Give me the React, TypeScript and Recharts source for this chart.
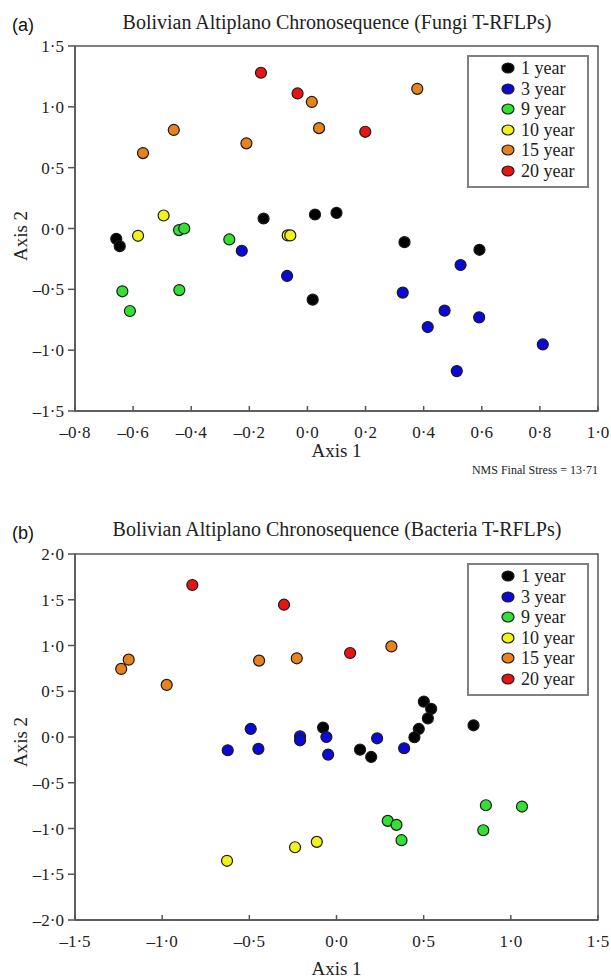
import React from "react";
import {
  ScatterChart,
  Scatter,
  XAxis,
  YAxis,
  ReferenceArea,
} from "recharts";

// group names + colours (same order in both panels)
const groups = ["1 year", "3 year", "9 year", "10 year", "15 year", "20 year"];
const groupColors = ["#000000", "#0a0ad8", "#33e033", "#f2f21a", "#e8821e", "#e81414"];

// (a) fungi T-RFLPs, [axis1, axis2]
const fungi1y: [number, number][] = [
  [-0.658, -0.085], [-0.646, -0.145], [-0.151, 0.082], [0.026, 0.115],
  [0.1, 0.128], [0.018, -0.585], [0.334, -0.112], [0.592, -0.175],
];
const fungi3y: [number, number][] = [
  [-0.226, -0.183], [-0.07, -0.39], [0.527, -0.3], [0.328, -0.527],
  [0.472, -0.675], [0.414, -0.81], [0.591, -0.73], [0.81, -0.953], [0.514, -1.172],
];
const fungi9y: [number, number][] = [
  [-0.442, -0.013], [-0.424, 0.0], [-0.269, -0.09], [-0.637, -0.516],
  [-0.441, -0.506], [-0.611, -0.678],
];
const fungi10y: [number, number][] = [
  [-0.495, 0.107], [-0.583, -0.06], [-0.068, -0.057], [-0.059, -0.057],
];
const fungi15y: [number, number][] = [
  [0.015, 1.04], [0.04, 0.825], [-0.46, 0.81], [-0.566, 0.62],
  [-0.21, 0.7], [0.378, 1.148],
];
const fungi20y: [number, number][] = [
  [-0.16, 1.28], [-0.034, 1.11], [0.199, 0.795],
];

// (b) bacteria T-RFLPs
const bact1y: [number, number][] = [
  [-0.077, 0.103], [0.501, 0.387], [0.543, 0.307], [0.524, 0.204],
  [0.472, 0.088], [0.447, -0.003], [0.786, 0.128], [0.135, -0.138], [0.199, -0.218],
];
const bact3y: [number, number][] = [
  [-0.492, 0.088], [-0.624, -0.145], [-0.448, -0.13], [-0.209, 0.008],
  [-0.209, -0.036], [-0.058, 0.0], [-0.048, -0.192], [0.233, -0.014], [0.388, -0.123],
];
const bact9y: [number, number][] = [
  [0.857, -0.746], [1.064, -0.76], [0.842, -1.019], [0.294, -0.917],
  [0.344, -0.96], [0.373, -1.128],
];
const bact10y: [number, number][] = [
  [-0.628, -1.353], [-0.238, -1.205], [-0.113, -1.146],
];
const bact15y: [number, number][] = [
  [-1.235, 0.744], [-1.192, 0.845], [-0.974, 0.569], [-0.444, 0.835],
  [-0.228, 0.86], [0.315, 0.99],
];
const bact20y: [number, number][] = [
  [-0.827, 1.661], [-0.301, 1.446], [0.078, 0.918],
];

const fungiXTicks = [-0.8, -0.6, -0.4, -0.2, 0, 0.2, 0.4, 0.6, 0.8, 1.0];
const fungiYTicks = [-1.5, -1.0, -0.5, 0, 0.5, 1.0, 1.5];
const bactXTicks = [-1.5, -1.0, -0.5, 0, 0.5, 1.0, 1.5];
const bactYTicks = [-2.0, -1.5, -1.0, -0.5, 0, 0.5, 1.0, 1.5, 2.0];

const SERIF = "Liberation Serif";
const AXIS = "#555";

const fmt = (v: number) =>
  (v < -1e-9 ? "\u2013" : "") + Math.abs(v).toFixed(1).replace(".", "\u00b7");

const Dot = (props: any) => {
  const { cx, cy, fill } = props;
  if (cx == null || cy == null) return null;
  return <circle cx={cx} cy={cy} r={5.5} fill={fill} stroke="#1a1a1a" strokeWidth={1.2} />;
};

const toPoints = (arr: [number, number][]) => arr.map(([x, y]) => ({ x, y }));

interface PanelProps {
  top: number;
  tag: string;
  title: string;
  data: [number, number][][];
  xTicks: number[];
  yTicks: number[];
  marginTop: number;
  xAxisHeight: number;
  titleY: number;
  tagY: number;
  axis1Y: number;
  axis2Y: number;
  legendTop: number;
  stress?: string;
}

function Panel(p: PanelProps) {
  const xd = [p.xTicks[0], p.xTicks[p.xTicks.length - 1]];
  const yd = [p.yTicks[0], p.yTicks[p.yTicks.length - 1]];
  const txt: React.CSSProperties = { position: "absolute", fontFamily: SERIF, color: "#222", whiteSpace: "nowrap", lineHeight: 1 };
  return (
    <div style={{ position: "absolute", left: 0, top: p.top, width: 611, height: 480 }}>
      <ScatterChart
        width={611}
        height={480}
        margin={{ top: p.marginTop, right: 13, bottom: 0, left: 0 }}
      >
        <XAxis
          type="number"
          dataKey="x"
          domain={xd}
          ticks={p.xTicks}
          tickFormatter={fmt}
          height={p.xAxisHeight}
          stroke={AXIS}
          strokeWidth={1.5}
          tickSize={-5}
          tickMargin={20}
          tick={{ fontFamily: SERIF, fontSize: 17, fill: "#222" }}
          allowDataOverflow
        />
        <YAxis
          type="number"
          dataKey="y"
          domain={yd}
          ticks={p.yTicks}
          tickFormatter={fmt}
          width={75}
          stroke={AXIS}
          strokeWidth={1.5}
          tickSize={7}
          tickMargin={4}
          tick={{ fontFamily: SERIF, fontSize: 17, fill: "#222" }}
          allowDataOverflow
        />
        <ReferenceArea x1={xd[0]} x2={xd[1]} y1={yd[0]} y2={yd[1]} fill="none" stroke={AXIS} strokeWidth={1.5} />
        {p.data.map((arr, i) => (
          <Scatter
            key={groups[i]}
            name={groups[i]}
            data={toPoints(arr)}
            fill={groupColors[i]}
            shape={<Dot />}
            isAnimationActive={false}
          />
        ))}
      </ScatterChart>

      <div style={{ ...txt, left: 12, top: p.tagY - 9, fontFamily: "Liberation Sans", fontSize: 18, color: "#111" }}>{p.tag}</div>
      <div style={{ ...txt, left: 37, width: 600, textAlign: "center", top: p.titleY - 10, fontSize: 20 }}>{p.title}</div>
      <div style={{ ...txt, left: 75, width: 523, textAlign: "center", top: p.axis1Y - 9, fontSize: 19 }}>Axis 1</div>
      <div
        style={{
          ...txt,
          left: 20,
          top: p.axis2Y,
          fontSize: 19,
          transform: "translate(-50%, -50%) rotate(-90deg)",
        }}
      >
        Axis 2
      </div>
      {p.stress && (
        <div style={{ ...txt, right: 13, top: 464, fontSize: 12 }}>{p.stress}</div>
      )}

      <div
        style={{
          position: "absolute",
          left: 467,
          top: p.legendTop,
          width: 118,
          height: 129,
          border: "2px solid #808080",
          background: "#fff",
          boxSizing: "content-box",
        }}
      >
        {groups.map((g, i) => (
          <div key={g} style={{ position: "absolute", left: 0, top: 1 + i * 20.5, height: 20, width: 118 }}>
            <svg width={16} height={14} style={{ position: "absolute", left: 31, top: 3 }}>
              <ellipse cx={8} cy={7} rx={6} ry={5} fill={groupColors[i]} stroke="#1a1a1a" strokeWidth={1.2} />
            </svg>
            <span style={{ position: "absolute", left: 52, top: 1, fontFamily: SERIF, fontSize: 18, lineHeight: 1, color: "#222", whiteSpace: "nowrap" }}>
              {g}
            </span>
          </div>
        ))}
      </div>
    </div>
  );
}

export default function App() {
  return (
    <div style={{ position: "absolute", left: 0, top: 0, width: 611, height: 980, background: "#fff", overflow: "hidden" }}>
      <Panel
        top={0}
        tag="(a)"
        title="Bolivian Altiplano Chronosequence (Fungi T-RFLPs)"
        data={[fungi1y, fungi3y, fungi9y, fungi10y, fungi15y, fungi20y]}
        xTicks={fungiXTicks}
        yTicks={fungiYTicks}
        marginTop={46}
        xAxisHeight={69}
        titleY={22}
        tagY={25}
        axis1Y={450}
        axis2Y={236}
        legendTop={55}
        stress={"NMS Final Stress = 13\u00b771"}
      />
      <Panel
        top={500}
        tag="(b)"
        title="Bolivian Altiplano Chronosequence (Bacteria T-RFLPs)"
        data={[bact1y, bact3y, bact9y, bact10y, bact15y, bact20y]}
        xTicks={bactXTicks}
        yTicks={bactYTicks}
        marginTop={54}
        xAxisHeight={60}
        titleY={29}
        tagY={33}
        axis1Y={468}
        axis2Y={242}
        legendTop={63}
      />
    </div>
  );
}
